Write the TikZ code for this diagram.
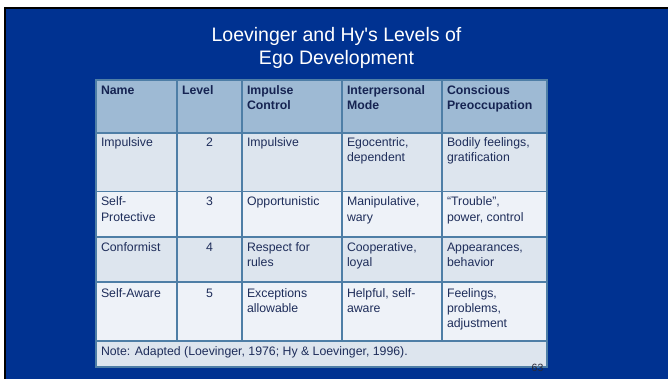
\documentclass[tikz,border=0pt]{standalone}
\usepackage{fontspec}
\setmainfont{Liberation Sans}
\definecolor{slidebg}{RGB}{0,50,145}
\definecolor{hdrfill}{RGB}{158,186,212}
\definecolor{rowA}{RGB}{221,229,238}
\definecolor{rowB}{RGB}{238,242,248}
\definecolor{gridc}{RGB}{78,126,166}
\definecolor{celltext}{RGB}{30,45,90}
\definecolor{hdrtext}{RGB}{22,36,82}
\begin{document}
\begin{tikzpicture}[x=1pt,y=-1pt,
  cell/.style={anchor=north west, inner sep=0pt, outer sep=0pt, align=left,
    font=\fontsize{12.3}{15}\selectfont, text=celltext},
  numcell/.style={cell, anchor=north, align=center},
  hdr/.style={cell, font=\fontsize{12.3}{15}\selectfont\bfseries, text=hdrtext},
  gridline/.style={draw=gridc, line width=1.3pt},
  titletext/.style={anchor=north, inner sep=0pt, align=center, text=white,
    font=\fontsize{19.5}{23.5}\selectfont}]
\useasboundingbox (0,0) rectangle (668,379);
% slide background
\fill[white] (0,0) rectangle (668,379);
\fill[black] (4,7) rectangle (668,379);
\fill[slidebg] (6,9) rectangle (668,379);
% title
\node[titletext] (title) at (336.5,24.5) {\strut Loevinger and Hy\textquotesingle s Levels of\\Ego Development};
% row fills
\fill[hdrfill] (96,80) rectangle (547,133);
\fill[rowA] (96,133) rectangle (547,191.5);
\fill[rowB] (96,191.5) rectangle (547,237);
\fill[rowA] (96,237) rectangle (547,282);
\fill[rowB] (96,282) rectangle (547,341);
\fill[rowA] (96,341) rectangle (547,367);
% grid
\foreach \yy in {133,191.5,237,282,341}
  \draw[gridline] (96,\yy) -- (547,\yy);
\foreach \xx in {177,242,342,442}
  \draw[gridline] (\xx,80) -- (\xx,341);
\draw[gridline] (96,80) rectangle (547,367);
% header
\node[hdr] (h1) at (101,84.5) {\strut Name};
\node[hdr] (h2) at (182,84.5) {\strut Level};
\node[hdr] (h3) at (247,84.5) {\strut Impulse\\Control};
\node[hdr] (h4) at (347,84.5) {\strut Interpersonal\\Mode};
\node[hdr] (h5) at (447,84.5) {\strut Conscious\\Preoccupation};
% row 1
\node[cell] (r1a) at (101,136.5) {\strut Impulsive};
\node[numcell] (r1b) at (209.5,136.5) {\strut 2};
\node[cell] (r1c) at (247,136.5) {\strut Impulsive};
\node[cell] (r1d) at (347,136.5) {\strut Egocentric,\\dependent};
\node[cell] (r1e) at (447,136.5) {\strut Bodily feelings,\\gratification};
% row 2
\node[cell] (r2a) at (101,195.5) {\strut Self-\\Protective};
\node[numcell] (r2b) at (209.5,195.5) {\strut 3};
\node[cell] (r2c) at (247,195.5) {\strut Opportunistic};
\node[cell] (r2d) at (347,195.5) {\strut Manipulative,\\wary};
\node[cell] (r2e) at (447,195.5) {\strut “Trouble”,\\power, control};
% row 3
\node[cell] (r3a) at (101,240.5) {\strut Conformist};
\node[numcell] (r3b) at (209.5,240.5) {\strut 4};
\node[cell] (r3c) at (247,240.5) {\strut Respect for\\rules};
\node[cell] (r3d) at (347,240.5) {\strut Cooperative,\\loyal};
\node[cell] (r3e) at (447,240.5) {\strut Appearances,\\behavior};
% row 4
\node[cell] (r4a) at (101,286.5) {\strut Self-Aware};
\node[numcell] (r4b) at (209.5,286.5) {\strut 5};
\node[cell] (r4c) at (247,286.5) {\strut Exceptions\\allowable};
\node[cell] (r4d) at (347,286.5) {\strut Helpful, self-\\aware};
\node[cell] (r4e) at (447,286.5) {\strut Feelings,\\problems,\\adjustment};
% note
\node[cell] (note) at (101,344.5) {\strut Note: Adapted (Loevinger, 1976; Hy \& Loevinger, 1996).};
% page number
\node[anchor=base west, inner sep=0pt, text={rgb,255:red,40;green,40;blue,55},
  font=\fontsize{10.5}{12}\selectfont] (pnum) at (531.5,371) {63};
\end{tikzpicture}
\end{document}
